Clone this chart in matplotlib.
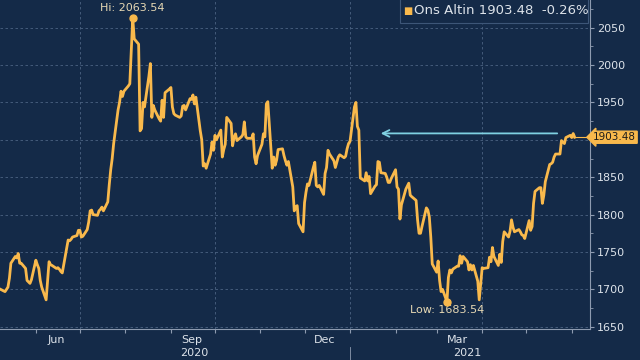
import pandas as pd
import matplotlib
matplotlib.use("Agg")
import matplotlib.pyplot as plt
import matplotlib.dates as mdates
import matplotlib.transforms as mtransforms
from matplotlib.patches import Rectangle

# daily gold price (ons altin), business days from 2020-05-08, one row per week
price = [
    1700,
    1697, 1700, 1703, 1715, 1735,
    1744, 1742, 1748, 1735, 1735,
    1728, 1712, 1710, 1708, 1713,
    1739, 1733, 1728, 1712, 1703,
    1686, 1712, 1737, 1733, 1732,
    1728, 1729, 1727, 1724, 1722,
    1755, 1766, 1765, 1767, 1770,
    1772, 1779, 1779, 1770, 1771,
    1780, 1790, 1805, 1806, 1800,
    1799, 1805, 1807, 1810, 1805,
    1817, 1840, 1860, 1875, 1895,
    1940, 1950, 1965, 1958, 1965,
    1972, 1975, 2020, 2063.54, 2035,
    2028, 1912, 1915, 1950, 1944,
    1985, 2002, 1930, 1946, 1940,
    1928, 1925, 1953, 1930, 1963,
    1968, 1970, 1944, 1935, 1933,
    1930, 1932, 1945, 1946, 1940,
    1955, 1954, 1960, 1948, 1957,
    1912, 1900, 1865, 1868, 1862,
    1881, 1897, 1886, 1906, 1900,
    1913, 1877, 1887, 1894, 1930,
    1922, 1892, 1903, 1908, 1899,
    1904, 1907, 1924, 1904, 1902,
    1902, 1908, 1877, 1868, 1879,
    1894, 1908, 1904, 1948, 1951,
    1862, 1877, 1866, 1873, 1887,
    1888, 1879, 1872, 1866, 1871,
    1837, 1805, 1810, 1812, 1788,
    1777, 1816, 1830, 1841, 1839,
    1863, 1870, 1839, 1837, 1839,
    1827, 1855, 1863, 1886, 1881,
    1872, 1863, 1870, 1877, 1880,
    1876, 1878, 1888, 1895, 1898,
    1944, 1950, 1918, 1913, 1849,
    1845, 1856, 1845, 1851, 1828,
    1838, 1840, 1871, 1870, 1856,
    1855, 1850, 1843, 1843, 1848,
    1860, 1837, 1834, 1794, 1813,
    1834, 1838, 1842, 1826, 1824,
    1819, 1793, 1775, 1775, 1784,
    1809, 1806, 1797, 1770, 1734,
    1723, 1738, 1712, 1697, 1700,
    1683.54, 1716, 1726, 1722, 1727,
    1731, 1731, 1745, 1735, 1744,
    1737, 1726, 1733, 1726, 1732,
    1711, 1686, 1708, 1729, 1728,
    1729, 1743, 1737, 1756, 1744,
    1732, 1747, 1736, 1764, 1777,
    1770, 1778, 1793, 1783, 1777,
    1780, 1777, 1773, 1772, 1768,
    1792, 1779, 1784, 1815, 1831,
    1836, 1836, 1815, 1826, 1844,
    1867, 1868, 1870, 1877, 1881,
    1881, 1899, 1897, 1895, 1903,
    1906, 1903, 1908.44, 1903.48,
]
dates = pd.bdate_range("2020-05-08", periods=len(price))

series_name = "Ons Altin"
change_pct = -0.26
yticks = [1650, 1700, 1750, 1800, 1850, 1900, 1950, 2000, 2050]
month_labels = ["Jun", "Sep", "Dec", "Mar"]
month_label_dates = ["2020-06-15", "2020-09-15", "2020-12-15", "2021-03-15"]
grid_dates = ["2020-07-01", "2020-10-01", "2021-01-01", "2021-04-01"]
years = ["2020", "2021"]
year_label_dates = ["2020-09-17", "2021-03-22"]
year_break = "2021-01-01"
arrow_from = ("2021-05-24", 1908.6)
arrow_to = ("2021-01-20", 1908.6)

bg = "#142a48"
gold = "#f9b94c"
grid_c = "#4c6382"
text_c = "#dde3ea"
axis_c = "#8e9bb0"

plt.rcParams["font.family"] = ["DejaVu Sans"]

fig = plt.figure(figsize=(6.4, 3.6), dpi=100, facecolor=bg)
ax = fig.add_axes([0, 0.0861, 0.922, 0.9139])
ax.set_facecolor(bg)

ax.plot(dates, price, color=gold, lw=2, solid_joinstyle="round", zorder=3)

x0, x1 = pd.Timestamp("2020-05-07 14:00"), pd.Timestamp("2021-06-13 12:00")
ax.set_xlim(x0, x1)
ax.set_ylim(1647, 2087)

# axes / spines
for side in ["top", "left"]:
    ax.spines[side].set_visible(False)
for side in ["right", "bottom"]:
    ax.spines[side].set_color(axis_c)
    ax.spines[side].set_linewidth(0.8)

last = price[-1]
ax.yaxis.tick_right()
ax.set_yticks(yticks)
# the 1900 label sits under the last-price tag
ax.set_yticklabels(["" if abs(t - last) < 15 else str(t) for t in yticks])
ax.set_yticks(range(1650, 2076, 25), minor=True)
ax.tick_params(axis="y", which="major", colors=axis_c, labelcolor=text_c,
               labelsize=8, length=3, pad=2)
ax.tick_params(axis="y", which="minor", colors=axis_c, length=2)
ax.grid(axis="y", which="major", color=grid_c, ls=(0, (3, 3)), lw=0.6)
for g in grid_dates:
    ax.axvline(pd.Timestamp(g), color=grid_c, ls=(0, (3, 3)), lw=0.6, zorder=1)

ax.xaxis.set_major_locator(mdates.MonthLocator())
ax.xaxis.set_major_formatter(plt.NullFormatter())
ax.set_xticks([pd.Timestamp(d) for d in month_label_dates], minor=True)
ax.set_xticklabels(month_labels, minor=True)
ax.tick_params(axis="x", which="major", colors=axis_c, length=3)
ax.tick_params(axis="x", which="minor", length=0, labelcolor=text_c,
               labelsize=8, pad=4)

# year labels and separator
trans = mtransforms.blended_transform_factory(ax.transData, ax.transAxes)
for y, d in zip(years, year_label_dates):
    ax.text(pd.Timestamp(d), -0.073, y, transform=trans, ha="center",
            va="center", color=text_c, fontsize=8, clip_on=False)
ax.plot([pd.Timestamp(year_break)] * 2, [-0.055, -0.1], transform=trans,
        color=axis_c, lw=0.6, clip_on=False)

# hi / low markers
s = pd.Series(price, index=dates)
hi_d, lo_d = s.idxmax(), s.idxmin()
ax.plot([hi_d, lo_d], [s.max(), s.min()], "o", color=gold, ms=5, zorder=4)
ax.annotate(f"Hi: {s.max():.2f}", (hi_d, s.max()), xytext=(0, 7),
            textcoords="offset points", ha="center", va="center",
            color="#e6d8b4", fontsize=8)
ax.annotate(f"Low: {s.min():.2f}", (lo_d, s.min()), xytext=(0, -6),
            textcoords="offset points", ha="center", va="center",
            color="#e6d8b4", fontsize=8)

# arrow
ax.annotate("", xy=(pd.Timestamp(arrow_to[0]), arrow_to[1]),
            xytext=(pd.Timestamp(arrow_from[0]), arrow_from[1]),
            arrowprops=dict(arrowstyle="->", color="#7fd0e2", lw=1.3,
                            mutation_scale=12))

# last price line and tag
ax.plot([dates[-1], x1], [last, last], color=gold, lw=0.8, clip_on=False)
ytrans = mtransforms.blended_transform_factory(ax.transAxes, ax.transData)
ax.text(1.078, last, f"{last:.2f}", transform=ytrans, ha="right", va="center",
        fontsize=7.5, color="#1b1b1b", clip_on=False, zorder=6,
        bbox=dict(boxstyle="larrow,pad=0.1", fc=gold, ec=gold))

# legend box
ax.add_patch(Rectangle((0.678, 0.93), 0.319, 0.075, transform=ax.transAxes,
                       fc=bg, ec="#3d5678", lw=0.8, zorder=5, clip_on=False))
ax.text(0.684, 0.968, "■", transform=ax.transAxes, color=gold, fontsize=7,
        ha="left", va="center", zorder=6)
ax.text(0.701, 0.968, f"{series_name} {last:.2f}  {change_pct:.2f}%",
        transform=ax.transAxes, color=text_c, fontsize=9.5, ha="left",
        va="center", zorder=6)

fig.savefig("out.png", dpi=100, facecolor=bg)
